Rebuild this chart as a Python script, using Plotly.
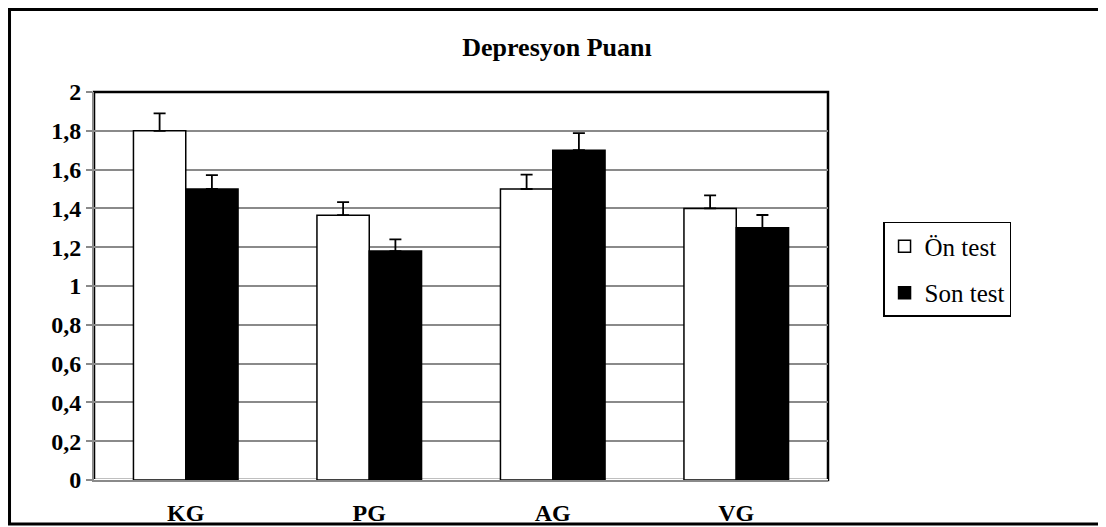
import plotly.graph_objects as go

# data
groups = ["KG", "PG", "AG", "VG"]
on_test = [1.80, 1.365, 1.50, 1.40]
on_err = [0.09, 0.067, 0.074, 0.067]
son_test = [1.50, 1.18, 1.70, 1.30]
son_err = [0.072, 0.06, 0.088, 0.066]
y_ticks = [0, 0.2, 0.4, 0.6, 0.8, 1, 1.2, 1.4, 1.6, 1.8, 2]
y_labels = ["0", "0,2", "0,4", "0,6", "0,8", "1", "1,2", "1,4", "1,6", "1,8", "2"]

SERIF = "Liberation Serif, Times New Roman, serif"
GRID = "#8a8a8a"

fig = go.Figure()
fig.add_trace(go.Bar(
    x=groups, y=on_test, name="Ön test",
    marker=dict(color="white", line=dict(color="black", width=1.5)),
    error_y=dict(type="data", array=on_err, arrayminus=[0] * len(on_err),
                 symmetric=False, color="black", thickness=1.8, width=6),
    legendgroup="a",
))
fig.add_trace(go.Bar(
    x=groups, y=son_test, name="Son test",
    marker=dict(color="black", line=dict(color="black", width=1.5)),
    error_y=dict(type="data", array=son_err, arrayminus=[0] * len(son_err),
                 symmetric=False, color="black", thickness=1.8, width=6),
    legendgroup="b",
))

# plot-area frame (dark top/right) and outer chart border
fig.add_shape(type="rect", xref="paper", yref="paper", x0=0, x1=1, y0=0, y1=1,
              line=dict(color="black", width=2.5), layer="below")
fig.add_shape(type="rect", xref="paper", yref="paper",
              x0=-0.1151, x1=1.3747, y0=-0.1134, y1=1.2126,
              line=dict(color="black", width=3), layer="above")

fig.update_layout(
    width=1098, height=519,
    margin=dict(l=86, r=278, t=84, b=47, autoexpand=False),
    paper_bgcolor="white", plot_bgcolor="white",
    barmode="group", bargap=0.43, bargroupgap=0,
    font=dict(family=SERIF, color="black"),
    title=dict(text="Depresyon Puanı", x=0.5, xref="container", xanchor="center",
               y=1 - 39 / 519, yref="container", yanchor="middle",
               font=dict(size=26, family=SERIF, weight="bold")),
    showlegend=True,
    legend=dict(x=1.075, y=0.665, xanchor="left", yanchor="top",
                bordercolor="black", borderwidth=1.5, bgcolor="white",
                font=dict(size=25, family=SERIF),
                traceorder="grouped", tracegroupgap=11, itemwidth=30),
)
fig.update_xaxes(
    automargin=False,
    showline=True, linecolor=GRID, linewidth=2, showgrid=False,
    ticks="", tickfont=dict(size=24, family=SERIF, weight="bold"),
    ticklabelstandoff=10,
)
fig.update_yaxes(
    automargin=False,
    range=[0, 2], tickvals=y_ticks, ticktext=y_labels,
    showline=True, linecolor=GRID, linewidth=2,
    showgrid=True, gridcolor=GRID, gridwidth=1.5,
    ticks="outside", ticklen=6, tickcolor=GRID, tickwidth=1.5,
    tickfont=dict(size=24, family=SERIF, weight="bold"),
)

fig.write_html("out.html")
